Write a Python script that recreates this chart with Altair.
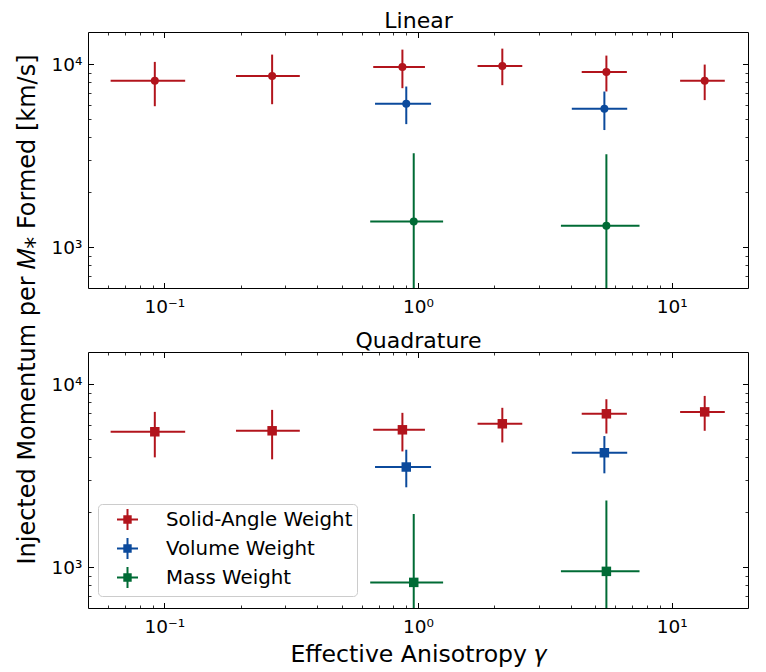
import altair as alt
import pandas as pd

FONT = "DejaVu Sans"

weights = ["Solid-Angle Weight", "Volume Weight", "Mass Weight"]
colors = ["#b2141c", "#0b4a9c", "#006b35"]

# effective anisotropy gamma: centre, lower and upper end of the x error bar
sa_gamma = [0.0917, 0.266, 0.868, 2.15, 5.53, 13.5]
sa_gamma_lo = [0.0614, 0.1916, 0.666, 1.717, 4.42, 10.8]
sa_gamma_hi = [0.1208, 0.342, 1.065, 2.577, 6.66, 16.2]
vol_gamma = [0.899, 5.43]
vol_gamma_lo = [0.677, 4.04]
vol_gamma_hi = [1.126, 6.68]
mass_gamma = [0.962, 5.53]
mass_gamma_lo = [0.648, 3.66]
mass_gamma_hi = [1.256, 7.47]

# injected momentum per M* formed [km/s] - Linear
lin_sa_p = [8115, 8636, 9672, 9793, 9085, 8115]
lin_sa_lo = [5900, 6050, 7400, 7686, 7100, 6370]
lin_sa_hi = [10300, 11290, 12020, 12170, 11150, 9960]
lin_vol_p = [6083, 5716]
lin_vol_lo = [4710, 4372]
lin_vol_hi = [7556, 7096]
lin_mass_p = [1385, 1313]
lin_mass_lo = [1, 1]          # lower error reaches below zero (off the axis)
lin_mass_hi = [3263, 3222]

# injected momentum per M* formed [km/s] - Quadrature
quad_sa_p = [5502, 5570, 5640, 6083, 6895, 7065]
quad_sa_lo = [3988, 3891, 4297, 4810, 5380, 5570]
quad_sa_hi = [7065, 7245, 6980, 7436, 8284, 8636]
quad_vol_p = [3532, 4226]
quad_vol_lo = [2737, 3263]
quad_vol_hi = [4390, 5213]
quad_mass_p = [828, 951]
quad_mass_lo = [1, 1]         # lower error reaches below zero (off the axis)
quad_mass_hi = [1959, 2317]

x_major = [0.1, 1, 10]
x_minor = [0.06, 0.07, 0.08, 0.09, 0.2, 0.3, 0.4, 0.5, 0.6, 0.7, 0.8, 0.9,
           2, 3, 4, 5, 6, 7, 8, 9]
y_major = [1000, 10000]
y_minor = [700, 800, 900, 2000, 3000, 4000, 5000, 6000, 7000, 8000, 9000]
XDOM = [0.05, 20]
YDOM = [600, 15000]

rows = []


def add(method, weight, g, glo, ghi, p, plo, phi):
    for i in range(len(g)):
        rows.append(dict(method=method, weight=weight, g=g[i], g_lo=glo[i], g_hi=ghi[i],
                         p=p[i], p_lo=plo[i], p_hi=phi[i]))


add("Linear", weights[0], sa_gamma, sa_gamma_lo, sa_gamma_hi, lin_sa_p, lin_sa_lo, lin_sa_hi)
add("Linear", weights[1], vol_gamma, vol_gamma_lo, vol_gamma_hi, lin_vol_p, lin_vol_lo, lin_vol_hi)
add("Linear", weights[2], mass_gamma, mass_gamma_lo, mass_gamma_hi, lin_mass_p, lin_mass_lo, lin_mass_hi)
add("Quadrature", weights[0], sa_gamma, sa_gamma_lo, sa_gamma_hi, quad_sa_p, quad_sa_lo, quad_sa_hi)
add("Quadrature", weights[1], vol_gamma, vol_gamma_lo, vol_gamma_hi, quad_vol_p, quad_vol_lo, quad_vol_hi)
add("Quadrature", weights[2], mass_gamma, mass_gamma_lo, mass_gamma_hi, quad_mass_p, quad_mass_lo, quad_mass_hi)
df = pd.DataFrame(rows)

W, H = 660, 256
SPACING = 64

LEGEND_SYMBOL = ("M-1,0H1M0,-1V1"
                 "M-0.4,-0.3H0.4M-0.4,-0.15H0.4M-0.4,0H0.4M-0.4,0.15H0.4M-0.4,0.3H0.4")

X_LABELS = "datum.value < 0.5 ? '10\u207b\u00b9' : (datum.value < 5 ? '10\u2070' : '10\u00b9')"
Y_LABELS = "datum.value < 5000 ? '10\u00b3' : '10\u2074'"


def tick_axis(orient, offset, values, size, width):
    return alt.Axis(orient=orient, offset=offset, values=values, tickSize=size,
                    tickWidth=width, tickColor="black", labels=False, domain=False,
                    grid=False, title=None)


def panel(method, shape, size, legend, xtitle, ytitle):
    d = df[df["method"] == method]
    xs = alt.Scale(type="log", domain=XDOM, nice=False)
    ys = alt.Scale(type="log", domain=YDOM, nice=False)
    cs = alt.Scale(domain=weights, range=colors)
    base = alt.Chart(d)

    if legend:
        leg = alt.Legend(title=None, orient="none", legendX=10, legendY=152,
                         symbolType=LEGEND_SYMBOL, symbolSize=441, symbolStrokeWidth=2,
                         labelFont=FONT, labelFontSize=19.8, labelColor="black",
                         labelOffset=27, symbolOffset=14, rowPadding=0, padding=4,
                         fillColor="white", strokeColor="#cccccc", cornerRadius=4,
                         labelLimit=400)
    else:
        leg = None

    xerr = base.mark_rule(strokeWidth=2, clip=True).encode(
        x=alt.X("g_lo:Q", scale=xs, axis=None), x2="g_hi:Q",
        y=alt.Y("p:Q", scale=ys, axis=None),
        color=alt.Color("weight:N", scale=cs, legend=leg))
    yerr = base.mark_rule(strokeWidth=2, clip=True).encode(
        x=alt.X("g:Q", scale=xs, axis=None),
        y=alt.Y("p_lo:Q", scale=ys, axis=None), y2="p_hi:Q",
        color=alt.Color("weight:N", scale=cs, legend=None))
    pts = base.mark_point(filled=True, shape=shape, size=size, opacity=1, clip=True).encode(
        x=alt.X("g:Q", scale=xs, axis=None),
        y=alt.Y("p:Q", scale=ys, axis=None),
        color=alt.Color("weight:N", scale=cs, legend=None))

    xlab_kw = dict(orient="bottom", values=x_major, labelExpr=X_LABELS, ticks=False,
                   tickSize=0, domain=False, grid=False, labelFont=FONT, labelFontSize=18.5,
                   labelColor="black", labelPadding=9, labelFlush=False)
    if xtitle:
        xlab = alt.Axis(title=xtitle, titleFont=FONT, titleFontSize=23.6,
                        titleFontWeight="normal", titleColor="black", titlePadding=7, **xlab_kw)
    else:
        xlab = alt.Axis(title=None, **xlab_kw)
    ylab_kw = dict(orient="left", values=y_major, labelExpr=Y_LABELS, ticks=False,
                   tickSize=0, domain=False, grid=False, labelFont=FONT, labelFontSize=18.5,
                   labelColor="black", labelPadding=6, labelFlush=False)
    if ytitle:
        ylab = alt.Axis(title=ytitle, titleFont=FONT, titleFontSize=24,
                        titleFontWeight="normal", titleColor="black", titlePadding=12,
                        titleY=277, titleAlign="center", titleAngle=270,
                        **ylab_kw)
    else:
        ylab = alt.Axis(title=None, **ylab_kw)

    # panel heading, drawn as the title of a bare top axis
    head = alt.Axis(orient="top", values=x_major, ticks=False, labels=False, domain=False,
                    grid=False, title=method, titleFont=FONT, titleFontSize=22,
                    titleFontWeight="normal", titleColor="black", titlePadding=5,
                    titleBaseline="alphabetic")

    axes = [
        (xlab, ylab),
        (tick_axis("top", -H, x_major, 5.5, 1), tick_axis("right", -W, y_major, 5.5, 1)),
        (tick_axis("top", -H, x_minor, 3, 0.8), tick_axis("right", -W, y_minor, 3, 0.8)),
        (tick_axis("bottom", -H, x_major, 5.5, 1), tick_axis("left", -W, y_major, 5.5, 1)),
        (tick_axis("bottom", -H, x_minor, 3, 0.8), tick_axis("left", -W, y_minor, 3, 0.8)),
        (head, None),
    ]
    axis_layers = [
        base.mark_point(opacity=0).encode(
            x=alt.X("g:Q", scale=xs, axis=ax), y=alt.Y("p:Q", scale=ys, axis=ay))
        for ax, ay in axes
    ]

    return alt.layer(xerr, yerr, pts, *axis_layers).resolve_scale(
        x="independent", y="independent"
    ).properties(width=W, height=H)


top = panel("Linear", "circle", 64, False, None,
            "Injected Momentum per \U0001D440\u204e Formed [km/s]")
bottom = panel("Quadrature", "square", 90, True, "Effective Anisotropy \U0001D6FE", None)

chart = alt.vconcat(top, bottom, spacing=SPACING, bounds="flush").resolve_scale(
    color="independent"
).resolve_legend(color="independent").configure_view(
    stroke="black", strokeWidth=1
).properties(
    padding={"left": 6, "top": 0, "right": 5, "bottom": 0},
    background="white",
)

chart.save("out.html", embed_options={"renderer": "svg", "actions": False})
